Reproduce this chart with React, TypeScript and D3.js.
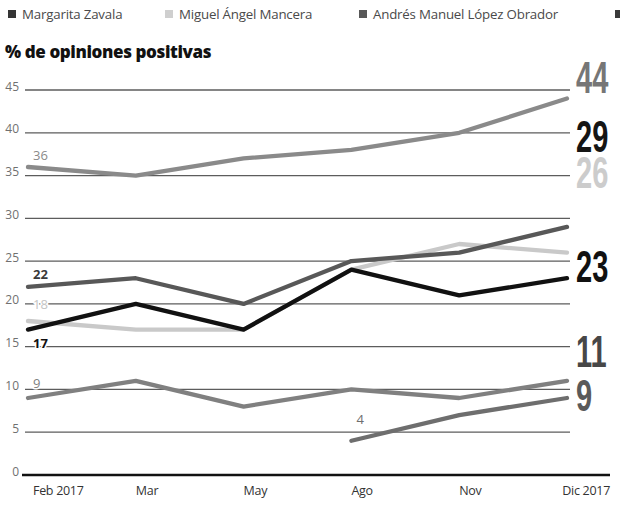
import * as d3 from 'd3';

// datos de la gráfica (lectura de la imagen)
const months = ['Feb 2017', 'Mar', 'May', 'Ago', 'Nov', 'Dic 2017'];
const serieA = [36, 35, 37, 38, 40, 44];
const serieB = [22, 23, 20, 25, 26, 29];
const serieC = [18, 17, 17, 24, 27, 26];
const serieD = [17, 20, 17, 24, 21, 23];
const serieE = [9, 11, 8, 10, 9, 11];
const serieF: (number | null)[] = [null, null, null, 4, 7, 9];
const yTicks = [0, 5, 10, 15, 20, 25, 30, 35, 40, 45];
const legendNames = ['Margarita Zavala', 'Miguel Ángel Mancera', 'Andrés Manuel López Obrador', ''];

const W = 620;
const H = 507;
const sans = "'Open Sans', 'Noto Sans', sans-serif";
const narrow = "'Liberation Sans', Arial, sans-serif";

// estilo de cada serie
const series = [
    { values: serieA, color: '#8a8a8a', end: '#767676', start: '#8a8a8a', bold: false, startDy: -7, labelAt: 46.5 },
    { values: serieB, color: '#585858', end: '#151515', start: '#3a3a3a', bold: true, startDy: -8, labelAt: 39.6 },
    { values: serieC, color: '#c9c9c9', end: '#cccccc', start: '#c4c4c4', bold: false, startDy: -12, labelAt: 35.4 },
    { values: serieD, color: '#111111', end: '#111111', start: '#111111', bold: true, startDy: 18, labelAt: 24.4 },
    { values: serieE, color: '#808080', end: '#474747', start: '#808080', bold: false, startDy: -10, labelAt: 14.5 },
    { values: serieF, color: '#6e6e6e', end: '#5a5a5a', start: '#6e6e6e', bold: false, startDy: -17, labelAt: 9.3 },
];
const drawOrder = [0, 4, 5, 2, 1, 3];
const legendColors = ['#353535', '#cfcfcf', '#585858', '#3a3a3a'];
const legendX = [8, 165, 359, 615];

export default function App() {
    const x = d3.scalePoint<string>().domain(months).range([28, 567]);
    const y = d3.scaleLinear().domain([0, 45]).range([475, 90]);

    const line = d3
        .line<number | null>()
        .defined((d) => d != null)
        .x((_, i) => x(months[i])!)
        .y((d) => y(d as number));

    return (
        <svg width={W} height={H} style={{ position: 'absolute', left: 0, top: 0, background: '#fff' }}>
            <rect width={W} height={H} fill="#fff" />

            {/* leyenda */}
            {legendNames.map((name, i) => (
                <g key={i}>
                    <rect x={legendX[i]} y={10} width={8} height={8} fill={legendColors[i]} />
                    <text x={legendX[i] + 14} y={19} fontFamily={sans} fontSize={13.3} fill="#4a4a4a" letterSpacing={-0.2}>
                        {name}
                    </text>
                </g>
            ))}

            <text x={5} y={58} fontFamily={sans} fontSize={17} fontWeight={800} fill="#111" letterSpacing={-0.4}>
                % de opiniones positivas
            </text>

            {/* rejilla */}
            {yTicks.map((t) => (
                <g key={t}>
                    <line
                        x1={t === 0 ? 22 : 25}
                        x2={t === 0 ? 610 : 570}
                        y1={y(t)}
                        y2={y(t)}
                        stroke={t === 0 ? '#111' : '#5c5c5c'}
                        strokeWidth={t === 0 ? 2.6 : 1.3}
                    />
                    <text x={19} y={y(t) + 0.5} textAnchor="end" fontFamily={sans} fontSize={12} fill="#707070">
                        {t}
                    </text>
                </g>
            ))}

            {/* eje x */}
            {months.map((m, i) => (
                <text
                    key={m}
                    x={i === months.length - 1 ? 610 : x(m)! + (i === 0 ? 5 : 0)}
                    y={495}
                    textAnchor={i === months.length - 1 ? 'end' : 'start'}
                    fontFamily={sans}
                    fontSize={12.5}
                    fill="#333"
                    letterSpacing={-0.3}
                >
                    {m}
                </text>
            ))}

            {/* líneas */}
            {drawOrder.map((k) => (
                <path
                    key={k}
                    d={line(series[k].values) ?? ''}
                    fill="none"
                    stroke={series[k].color}
                    strokeWidth={4.3}
                    strokeLinejoin="round"
                    strokeLinecap="round"
                />
            ))}

            {/* etiquetas iniciales */}
            {series.map((s, k) => {
                const i = s.values.findIndex((v) => v != null);
                const v = s.values[i] as number;
                return (
                    <text
                        key={k}
                        x={x(months[i])! + 5}
                        y={y(v) + s.startDy}
                        fontFamily={sans}
                        fontSize={13}
                        fontWeight={s.bold ? 700 : 400}
                        fill={s.start}
                        stroke="#fff"
                        strokeWidth={3}
                        paintOrder="stroke"
                    >
                        {v}
                    </text>
                );
            })}

            {/* etiquetas finales */}
            {series.map((s, k) => {
                const v = s.values[s.values.length - 1] as number;
                return (
                    <g key={k} transform={`translate(576, ${y(s.labelAt) + 16}) scale(0.66, 1)`}>
                        <text x={0} y={0} fontFamily={narrow} fontSize={44} fontWeight={700} fill={s.end}>
                            {v}
                        </text>
                    </g>
                );
            })}
        </svg>
    );
}
